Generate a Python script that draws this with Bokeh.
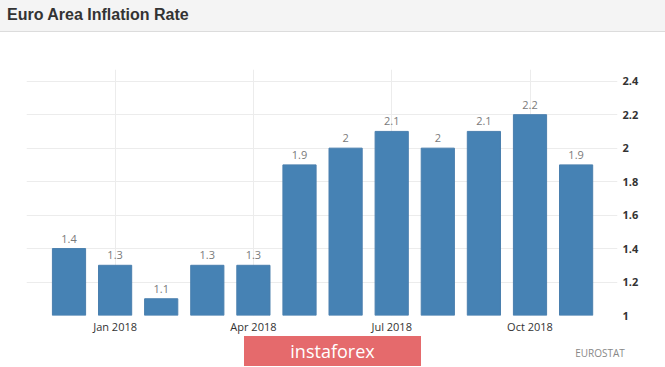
from bokeh.plotting import figure
from bokeh.models import ColumnDataSource, FixedTicker, Div
from bokeh.layouts import column
from bokeh.core.properties import value
from bokeh.embed import file_html
from bokeh.resources import INLINE

months = ["Dec 2017", "Jan 2018", "Feb 2018", "Mar 2018", "Apr 2018", "May 2018",
          "Jun 2018", "Jul 2018", "Aug 2018", "Sep 2018", "Oct 2018", "Nov 2018"]
inflation = [1.4, 1.3, 1.1, 1.3, 1.3, 1.9, 2.0, 2.1, 2.0, 2.1, 2.2, 1.9]
value_labels = ["1.4", "1.3", "1.1", "1.3", "1.3", "1.9", "2", "2.1", "2", "2.1", "2.2", "1.9"]
x_tick_idx = [1, 4, 7, 10]
y_ticks = [1.0, 1.2, 1.4, 1.6, 1.8, 2.0, 2.2, 2.4]
y_tick_labels = ["1", "1.2", "1.4", "1.6", "1.8", "2", "2.2", "2.4"]
title_text = "Euro Area Inflation Rate"
source_text = "EUROSTAT"
watermark_text = "instaforex"

W = 665
HH, HM, HF = 32, 304, 31

header = Div(
    width=W, height=HH, margin=0,
    text=(
        '<div style="position:relative;width:665px;height:32px;box-sizing:border-box;'
        'background:#f4f4f4;border-bottom:1px solid #dcdcdc;">'
        '<span style="position:absolute;left:7px;top:5px;font-family:\'Liberation Sans\',Arial,sans-serif;'
        'font-weight:bold;font-size:16px;line-height:20px;color:#333333;white-space:nowrap;">'
        f'{title_text}</span></div>'
    ),
)

p = figure(width=W, height=HM, output_backend="svg", toolbar_location=None,
           x_range=(-0.922, 11.898), y_range=(1.0, 2.470),
           min_border_left=26, min_border_right=48, min_border_top=37, min_border_bottom=20,
           x_axis_location="below", y_axis_location="right", margin=0)
p.background_fill_color = "white"
p.border_fill_color = "white"
p.outline_line_color = None

src = ColumnDataSource(dict(x=list(range(len(months))), top=inflation, lbl=value_labels))
p.vbar(x="x", top="top", bottom=1.0, width=0.72, source=src,
       fill_color="#4682b4", line_color="#4a7fae")
p.text(x="x", y="top", text="lbl", source=src, text_align="center", text_baseline="bottom",
       y_offset=-6, text_font_size="11px", text_color="#7a7a7a", text_font=value("Open Sans"))

p.xaxis.ticker = FixedTicker(ticks=x_tick_idx)
p.xaxis.major_label_overrides = {i: months[i] for i in x_tick_idx}
p.yaxis.ticker = FixedTicker(ticks=y_ticks)
p.yaxis.major_label_overrides = {t: l for t, l in zip(y_ticks, y_tick_labels)}
for ax in (p.xaxis, p.yaxis):
    ax.axis_line_color = None
    ax.major_tick_line_color = None
    ax.minor_tick_line_color = None
    ax.major_tick_out = 0
    ax.major_tick_in = 0
    ax.minor_tick_out = 0
    ax.minor_tick_in = 0
    ax.major_label_text_font = "Open Sans"
    ax.major_label_text_font_size = "11px"
    ax.major_label_text_color = "#333333"
p.yaxis.major_label_text_font_style = "bold"
p.yaxis.major_label_standoff = 5
p.xaxis.major_label_standoff = 3
p.xgrid.grid_line_color = "#ececec"
p.ygrid.grid_line_color = "#ececec"

footer = Div(
    width=W, height=HF, margin=0,
    text=(
        '<div style="position:relative;width:665px;height:31px;">'
        '<div style="position:absolute;left:244px;top:0px;width:177px;height:30px;background:#e56a6c;'
        'color:white;font-family:\'Open Sans\',sans-serif;font-size:18px;line-height:30px;text-align:center;">'
        f'{watermark_text}</div>'
        '<div style="position:absolute;left:560px;top:10px;width:80px;text-align:center;'
        'font-family:\'Open Sans\',sans-serif;font-size:10px;line-height:14px;color:#888888;">'
        f'{source_text}</div></div>'
    ),
)

layout = column(header, p, footer, spacing=0, margin=0)
open("out.html", "w").write(file_html(layout, INLINE))
